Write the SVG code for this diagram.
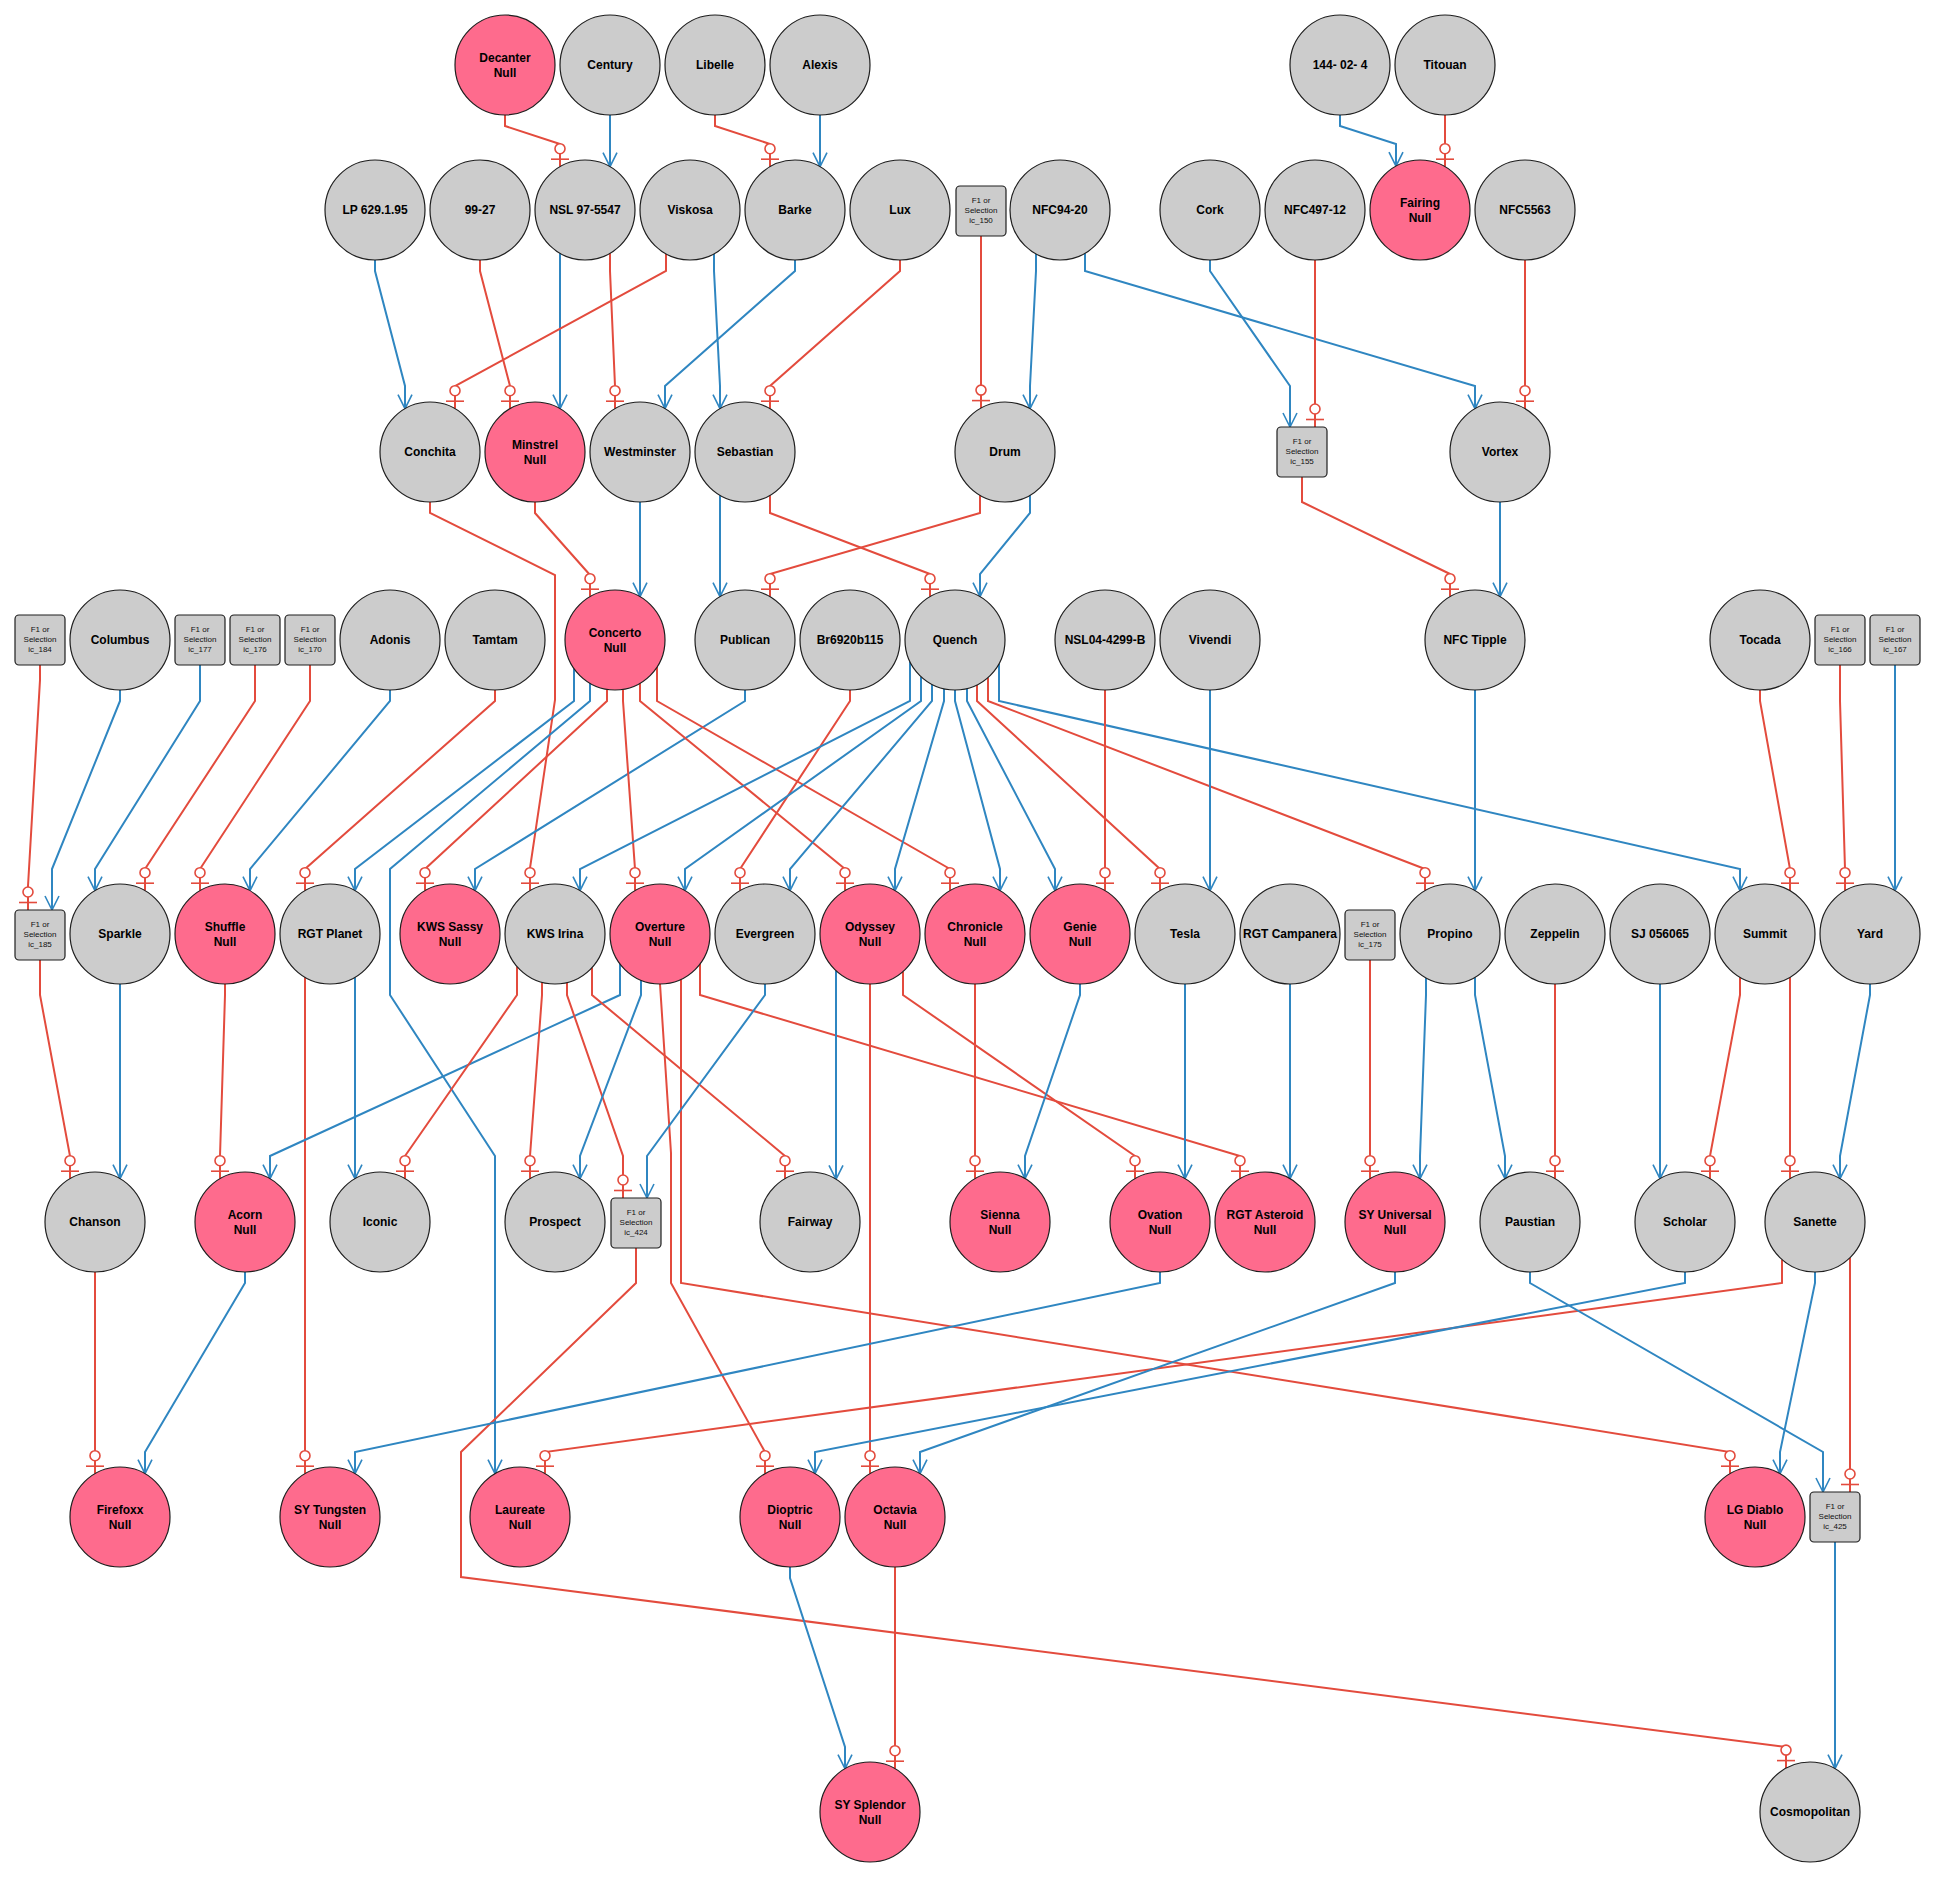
<svg xmlns="http://www.w3.org/2000/svg" width="1935" height="1877" viewBox="0 0 1935 1877">
<style>
.c{stroke:#1e1e1e;stroke-width:1.2}
.g{fill:#cccccc}
.p{fill:#fe6b8d}
.bx{fill:#cccccc;stroke:#1e1e1e;stroke-width:1.2}
.t{font-family:"Liberation Sans",Arial,sans-serif;font-weight:bold;font-size:12px;text-anchor:middle;fill:#000}
.s{font-family:"Liberation Sans",Arial,sans-serif;font-size:8px;text-anchor:middle;fill:#111}
.e{fill:none;stroke-width:2}
.r{stroke:#e34b3d;marker-end:url(#mr)}
.u{stroke:#2f86c1;marker-end:url(#mb)}
</style>
<defs>
<marker id="mb" markerUnits="userSpaceOnUse" viewBox="-25 -12 30 24" markerWidth="30" markerHeight="24" refX="0" refY="0" orient="auto" overflow="visible">
<path d="M-14,-7 L0,0 L-14,7" fill="none" stroke="#2f86c1" stroke-width="1.6"/>
</marker>
<marker id="mr" markerUnits="userSpaceOnUse" viewBox="-30 -12 36 24" markerWidth="36" markerHeight="24" refX="0" refY="0" orient="auto" overflow="visible">
<line x1="-7.5" y1="-9" x2="-7.5" y2="9" stroke="#e34b3d" stroke-width="1.6"/>
<circle cx="-18" cy="0" r="5" fill="#fff" stroke="#e34b3d" stroke-width="1.6"/>
</marker>
</defs>
<rect width="1935" height="1877" fill="#fff"/>
<g id="connectors">
<path class="e r" d="M505,115 V126 L560,144 V166.7"/>
<path class="e u" d="M610,115 V166.7"/>
<path class="e r" d="M715,115 V126 L770,144 V166.7"/>
<path class="e u" d="M820,115 V166.7"/>
<path class="e u" d="M1340,115 V126 L1396,144 V166.1"/>
<path class="e r" d="M1445,115 V166.7"/>
<path class="e u" d="M375,260 V271 L405,386 V408.7"/>
<path class="e r" d="M480,260 V271 L510,386 V408.7"/>
<path class="e u" d="M560,253.3 V408.7"/>
<path class="e r" d="M610,253.3 V271 L615,386 V408.7"/>
<path class="e r" d="M666,253.9 V271 L455,386 V408.7"/>
<path class="e u" d="M714,253.9 V271 L720,386 V408.7"/>
<path class="e u" d="M795,260 V271 L665,386 V408.7"/>
<path class="e r" d="M900,260 V271 L770,386 V408.7"/>
<path class="e r" d="M981,236 V408.1"/>
<path class="e u" d="M1036,253.9 V271 L1030,386 V408.7"/>
<path class="e u" d="M1085,253.3 V271 L1475,386 V408.7"/>
<path class="e u" d="M1210,260 V271 L1290,386 V427"/>
<path class="e r" d="M1315,260 V427"/>
<path class="e r" d="M1525,260 V408.7"/>
<path class="e r" d="M430,502 V513 L555,575 V700 L530,868 V890.7"/>
<path class="e r" d="M535,502 V513 L590,575 V596.7"/>
<path class="e u" d="M640,502 V596.7"/>
<path class="e u" d="M720,495.3 V596.7"/>
<path class="e r" d="M770,495.3 V513 L930,574 V596.7"/>
<path class="e r" d="M980,495.3 V513 L770,574 V596.7"/>
<path class="e u" d="M1030,495.3 V513 L980,574 V596.7"/>
<path class="e r" d="M1302,477 V502 L1450,574 V596.7"/>
<path class="e u" d="M1500,502 V596.7"/>
<path class="e r" d="M40,665 V680 L28,886 V910"/>
<path class="e u" d="M120,690 V701 L52,869 V910"/>
<path class="e u" d="M200,665 V701 L95,869 V890.7"/>
<path class="e r" d="M255,665 V701 L145,869 V890.7"/>
<path class="e r" d="M310,665 V701 L200,869 V890.7"/>
<path class="e u" d="M390,690 V701 L250,869 V890.7"/>
<path class="e r" d="M495,690 V701 L305,869 V890.7"/>
<path class="e u" d="M574,668.6 V701 L355,869 V890.7"/>
<path class="e u" d="M590,683.3 V701 L390,869 V995 L495,1156 V1473.7"/>
<path class="e r" d="M607,689.4 V701 L425,869 V890.7"/>
<path class="e u" d="M745,690 V701 L475,869 V890.7"/>
<path class="e r" d="M623,689.4 V701 L635,869 V890.7"/>
<path class="e r" d="M640,683.3 V701 L845,869 V890.7"/>
<path class="e r" d="M657,667.1 V701 L950,869 V890.7"/>
<path class="e r" d="M850,690 V701 L740,869 V890.7"/>
<path class="e u" d="M910,661.8 V701 L580,869 V890.7"/>
<path class="e u" d="M921,676.7 V701 L685,869 V890.7"/>
<path class="e u" d="M932,684.4 V701 L790,869 V890.7"/>
<path class="e u" d="M944,688.8 V701 L895,869 V890.7"/>
<path class="e u" d="M955,690 V701 L1000,869 V890.7"/>
<path class="e u" d="M967,688.5 V701 L1055,869 V890.7"/>
<path class="e r" d="M977,684.9 V701 L1160,869 V890.7"/>
<path class="e r" d="M988,677.6 V701 L1425,869 V890.7"/>
<path class="e u" d="M999,663.7 V701 L1740,869 V890.7"/>
<path class="e r" d="M1105,690 V890.7"/>
<path class="e u" d="M1210,690 V890.7"/>
<path class="e u" d="M1475,690 V890.7"/>
<path class="e r" d="M1760,690 V701 L1790,869 V890.7"/>
<path class="e r" d="M1840,665 V701 L1845,869 V890.7"/>
<path class="e u" d="M1895,665 V890.7"/>
<path class="e r" d="M40,960 V995 L70,1156 V1178.7"/>
<path class="e u" d="M120,984 V1178.7"/>
<path class="e r" d="M225,984 V995 L220,1156 V1178.7"/>
<path class="e r" d="M305,977.3 V1473.7"/>
<path class="e u" d="M355,977.3 V1178.7"/>
<path class="e u" d="M620,964 V995 L270,1156 V1178.7"/>
<path class="e r" d="M517,966.5 V995 L405,1156 V1178.7"/>
<path class="e r" d="M542,982.3 V995 L530,1156 V1178.7"/>
<path class="e r" d="M567,982.5 V995 L623,1156 V1198"/>
<path class="e r" d="M592,967.6 V995 L785,1156 V1178.7"/>
<path class="e u" d="M641,980.2 V995 L580,1156 V1178.7"/>
<path class="e r" d="M660,984 L671,1153 V1283 L765,1452 V1473.7"/>
<path class="e r" d="M681,979.4 V1283 L1730,1452 V1473.7"/>
<path class="e r" d="M700,964 V995 L1240,1156 V1178.7"/>
<path class="e u" d="M765,984 V995 L647,1156 V1198"/>
<path class="e u" d="M836,970.7 V1179.3"/>
<path class="e r" d="M870,984 V1473.7"/>
<path class="e r" d="M903,971.6 V995 L1135,1156 V1178.7"/>
<path class="e r" d="M975,984 V1178.7"/>
<path class="e u" d="M1080,984 V995 L1025,1156 V1178.7"/>
<path class="e u" d="M1185,984 V1178.7"/>
<path class="e u" d="M1290,984 V1178.7"/>
<path class="e r" d="M1370,960 V1178.7"/>
<path class="e u" d="M1426,977.9 V995 L1420,1156 V1178.7"/>
<path class="e u" d="M1475,977.3 V995 L1505,1156 V1178.7"/>
<path class="e r" d="M1555,984 V1178.7"/>
<path class="e u" d="M1660,984 V1178.7"/>
<path class="e r" d="M1740,977.3 V995 L1710,1156 V1178.7"/>
<path class="e r" d="M1790,977.3 V1178.7"/>
<path class="e u" d="M1870,984 V995 L1840,1156 V1178.7"/>
<path class="e r" d="M95,1272 V1473.7"/>
<path class="e u" d="M245,1272 V1283 L145,1452 V1473.7"/>
<path class="e r" d="M636,1248 V1283 L461,1452 V1577 L1786,1747 V1768.1"/>
<path class="e u" d="M1160,1272 V1283 L355,1452 V1473.7"/>
<path class="e r" d="M1782,1259.6 V1283 L545,1452 V1473.7"/>
<path class="e u" d="M1395,1272 V1283 L920,1452 V1473.7"/>
<path class="e u" d="M1685,1272 V1283 L815,1452 V1473.7"/>
<path class="e u" d="M1530,1272 V1283 L1823,1452 V1492"/>
<path class="e u" d="M1815,1272 V1283 L1780,1452 V1473.7"/>
<path class="e r" d="M1850,1257.7 V1492"/>
<path class="e u" d="M790,1567 V1578 L845,1747 V1768.7"/>
<path class="e r" d="M895,1567 V1768.7"/>
<path class="e u" d="M1835,1542 V1768.7"/>
</g>
<g id="nodes">
<g id="decanter" transform="translate(505,65)"><circle class="c p" r="50"/><text class="t" y="-3">Decanter</text><text class="t" y="12">Null</text></g>
<g id="century" transform="translate(610,65)"><circle class="c g" r="50"/><text class="t" y="4">Century</text></g>
<g id="libelle" transform="translate(715,65)"><circle class="c g" r="50"/><text class="t" y="4">Libelle</text></g>
<g id="alexis" transform="translate(820,65)"><circle class="c g" r="50"/><text class="t" y="4">Alexis</text></g>
<g id="n144" transform="translate(1340,65)"><circle class="c g" r="50"/><text class="t" y="4">144- 02- 4</text></g>
<g id="titouan" transform="translate(1445,65)"><circle class="c g" r="50"/><text class="t" y="4">Titouan</text></g>

<g id="lp629" transform="translate(375,210)"><circle class="c g" r="50"/><text class="t" y="4">LP 629.1.95</text></g>
<g id="n9927" transform="translate(480,210)"><circle class="c g" r="50"/><text class="t" y="4">99-27</text></g>
<g id="nsl97" transform="translate(585,210)"><circle class="c g" r="50"/><text class="t" y="4">NSL 97-5547</text></g>
<g id="viskosa" transform="translate(690,210)"><circle class="c g" r="50"/><text class="t" y="4">Viskosa</text></g>
<g id="barke" transform="translate(795,210)"><circle class="c g" r="50"/><text class="t" y="4">Barke</text></g>
<g id="lux" transform="translate(900,210)"><circle class="c g" r="50"/><text class="t" y="4">Lux</text></g>
<g id="ic150" transform="translate(981,211)"><rect class="bx" x="-25" y="-25" width="50" height="50" rx="4"/><text class="s" y="-8">F1 or</text><text class="s" y="2">Selection</text><text class="s" y="12">ic_150</text></g>
<g id="nfc9420" transform="translate(1060,210)"><circle class="c g" r="50"/><text class="t" y="4">NFC94-20</text></g>
<g id="cork" transform="translate(1210,210)"><circle class="c g" r="50"/><text class="t" y="4">Cork</text></g>
<g id="nfc497" transform="translate(1315,210)"><circle class="c g" r="50"/><text class="t" y="4">NFC497-12</text></g>
<g id="fairing" transform="translate(1420,210)"><circle class="c p" r="50"/><text class="t" y="-3">Fairing</text><text class="t" y="12">Null</text></g>
<g id="nfc5563" transform="translate(1525,210)"><circle class="c g" r="50"/><text class="t" y="4">NFC5563</text></g>

<g id="conchita" transform="translate(430,452)"><circle class="c g" r="50"/><text class="t" y="4">Conchita</text></g>
<g id="minstrel" transform="translate(535,452)"><circle class="c p" r="50"/><text class="t" y="-3">Minstrel</text><text class="t" y="12">Null</text></g>
<g id="westminster" transform="translate(640,452)"><circle class="c g" r="50"/><text class="t" y="4">Westminster</text></g>
<g id="sebastian" transform="translate(745,452)"><circle class="c g" r="50"/><text class="t" y="4">Sebastian</text></g>
<g id="drum" transform="translate(1005,452)"><circle class="c g" r="50"/><text class="t" y="4">Drum</text></g>
<g id="ic155" transform="translate(1302,452)"><rect class="bx" x="-25" y="-25" width="50" height="50" rx="4"/><text class="s" y="-8">F1 or</text><text class="s" y="2">Selection</text><text class="s" y="12">ic_155</text></g>
<g id="vortex" transform="translate(1500,452)"><circle class="c g" r="50"/><text class="t" y="4">Vortex</text></g>

<g id="ic184" transform="translate(40,640)"><rect class="bx" x="-25" y="-25" width="50" height="50" rx="4"/><text class="s" y="-8">F1 or</text><text class="s" y="2">Selection</text><text class="s" y="12">ic_184</text></g>
<g id="columbus" transform="translate(120,640)"><circle class="c g" r="50"/><text class="t" y="4">Columbus</text></g>
<g id="ic177" transform="translate(200,640)"><rect class="bx" x="-25" y="-25" width="50" height="50" rx="4"/><text class="s" y="-8">F1 or</text><text class="s" y="2">Selection</text><text class="s" y="12">ic_177</text></g>
<g id="ic176" transform="translate(255,640)"><rect class="bx" x="-25" y="-25" width="50" height="50" rx="4"/><text class="s" y="-8">F1 or</text><text class="s" y="2">Selection</text><text class="s" y="12">ic_176</text></g>
<g id="ic170" transform="translate(310,640)"><rect class="bx" x="-25" y="-25" width="50" height="50" rx="4"/><text class="s" y="-8">F1 or</text><text class="s" y="2">Selection</text><text class="s" y="12">ic_170</text></g>
<g id="adonis" transform="translate(390,640)"><circle class="c g" r="50"/><text class="t" y="4">Adonis</text></g>
<g id="tamtam" transform="translate(495,640)"><circle class="c g" r="50"/><text class="t" y="4">Tamtam</text></g>
<g id="concerto" transform="translate(615,640)"><circle class="c p" r="50"/><text class="t" y="-3">Concerto</text><text class="t" y="12">Null</text></g>
<g id="publican" transform="translate(745,640)"><circle class="c g" r="50"/><text class="t" y="4">Publican</text></g>
<g id="br6920" transform="translate(850,640)"><circle class="c g" r="50"/><text class="t" y="4">Br6920b115</text></g>
<g id="quench" transform="translate(955,640)"><circle class="c g" r="50"/><text class="t" y="4">Quench</text></g>
<g id="nsl04" transform="translate(1105,640)"><circle class="c g" r="50"/><text class="t" y="4">NSL04-4299-B</text></g>
<g id="vivendi" transform="translate(1210,640)"><circle class="c g" r="50"/><text class="t" y="4">Vivendi</text></g>
<g id="nfctipple" transform="translate(1475,640)"><circle class="c g" r="50"/><text class="t" y="4">NFC Tipple</text></g>
<g id="tocada" transform="translate(1760,640)"><circle class="c g" r="50"/><text class="t" y="4">Tocada</text></g>
<g id="ic166" transform="translate(1840,640)"><rect class="bx" x="-25" y="-25" width="50" height="50" rx="4"/><text class="s" y="-8">F1 or</text><text class="s" y="2">Selection</text><text class="s" y="12">ic_166</text></g>
<g id="ic167" transform="translate(1895,640)"><rect class="bx" x="-25" y="-25" width="50" height="50" rx="4"/><text class="s" y="-8">F1 or</text><text class="s" y="2">Selection</text><text class="s" y="12">ic_167</text></g>

<g id="ic185" transform="translate(40,935)"><rect class="bx" x="-25" y="-25" width="50" height="50" rx="4"/><text class="s" y="-8">F1 or</text><text class="s" y="2">Selection</text><text class="s" y="12">ic_185</text></g>
<g id="sparkle" transform="translate(120,934)"><circle class="c g" r="50"/><text class="t" y="4">Sparkle</text></g>
<g id="shuffle" transform="translate(225,934)"><circle class="c p" r="50"/><text class="t" y="-3">Shuffle</text><text class="t" y="12">Null</text></g>
<g id="rgtplanet" transform="translate(330,934)"><circle class="c g" r="50"/><text class="t" y="4">RGT Planet</text></g>
<g id="kwssassy" transform="translate(450,934)"><circle class="c p" r="50"/><text class="t" y="-3">KWS Sassy</text><text class="t" y="12">Null</text></g>
<g id="kwsirina" transform="translate(555,934)"><circle class="c g" r="50"/><text class="t" y="4">KWS Irina</text></g>
<g id="overture" transform="translate(660,934)"><circle class="c p" r="50"/><text class="t" y="-3">Overture</text><text class="t" y="12">Null</text></g>
<g id="evergreen" transform="translate(765,934)"><circle class="c g" r="50"/><text class="t" y="4">Evergreen</text></g>
<g id="odyssey" transform="translate(870,934)"><circle class="c p" r="50"/><text class="t" y="-3">Odyssey</text><text class="t" y="12">Null</text></g>
<g id="chronicle" transform="translate(975,934)"><circle class="c p" r="50"/><text class="t" y="-3">Chronicle</text><text class="t" y="12">Null</text></g>
<g id="genie" transform="translate(1080,934)"><circle class="c p" r="50"/><text class="t" y="-3">Genie</text><text class="t" y="12">Null</text></g>
<g id="tesla" transform="translate(1185,934)"><circle class="c g" r="50"/><text class="t" y="4">Tesla</text></g>
<g id="rgtcampanera" transform="translate(1290,934)"><circle class="c g" r="50"/><text class="t" y="4">RGT Campanera</text></g>
<g id="ic175" transform="translate(1370,935)"><rect class="bx" x="-25" y="-25" width="50" height="50" rx="4"/><text class="s" y="-8">F1 or</text><text class="s" y="2">Selection</text><text class="s" y="12">ic_175</text></g>
<g id="propino" transform="translate(1450,934)"><circle class="c g" r="50"/><text class="t" y="4">Propino</text></g>
<g id="zeppelin" transform="translate(1555,934)"><circle class="c g" r="50"/><text class="t" y="4">Zeppelin</text></g>
<g id="sj056065" transform="translate(1660,934)"><circle class="c g" r="50"/><text class="t" y="4">SJ 056065</text></g>
<g id="summit" transform="translate(1765,934)"><circle class="c g" r="50"/><text class="t" y="4">Summit</text></g>
<g id="yard" transform="translate(1870,934)"><circle class="c g" r="50"/><text class="t" y="4">Yard</text></g>

<g id="chanson" transform="translate(95,1222)"><circle class="c g" r="50"/><text class="t" y="4">Chanson</text></g>
<g id="acorn" transform="translate(245,1222)"><circle class="c p" r="50"/><text class="t" y="-3">Acorn</text><text class="t" y="12">Null</text></g>
<g id="iconic" transform="translate(380,1222)"><circle class="c g" r="50"/><text class="t" y="4">Iconic</text></g>
<g id="prospect" transform="translate(555,1222)"><circle class="c g" r="50"/><text class="t" y="4">Prospect</text></g>
<g id="ic424" transform="translate(636,1223)"><rect class="bx" x="-25" y="-25" width="50" height="50" rx="4"/><text class="s" y="-8">F1 or</text><text class="s" y="2">Selection</text><text class="s" y="12">ic_424</text></g>
<g id="fairway" transform="translate(810,1222)"><circle class="c g" r="50"/><text class="t" y="4">Fairway</text></g>
<g id="sienna" transform="translate(1000,1222)"><circle class="c p" r="50"/><text class="t" y="-3">Sienna</text><text class="t" y="12">Null</text></g>
<g id="ovation" transform="translate(1160,1222)"><circle class="c p" r="50"/><text class="t" y="-3">Ovation</text><text class="t" y="12">Null</text></g>
<g id="rgtasteroid" transform="translate(1265,1222)"><circle class="c p" r="50"/><text class="t" y="-3">RGT Asteroid</text><text class="t" y="12">Null</text></g>
<g id="syuniversal" transform="translate(1395,1222)"><circle class="c p" r="50"/><text class="t" y="-3">SY Universal</text><text class="t" y="12">Null</text></g>
<g id="paustian" transform="translate(1530,1222)"><circle class="c g" r="50"/><text class="t" y="4">Paustian</text></g>
<g id="scholar" transform="translate(1685,1222)"><circle class="c g" r="50"/><text class="t" y="4">Scholar</text></g>
<g id="sanette" transform="translate(1815,1222)"><circle class="c g" r="50"/><text class="t" y="4">Sanette</text></g>

<g id="firefoxx" transform="translate(120,1517)"><circle class="c p" r="50"/><text class="t" y="-3">Firefoxx</text><text class="t" y="12">Null</text></g>
<g id="sytungsten" transform="translate(330,1517)"><circle class="c p" r="50"/><text class="t" y="-3">SY Tungsten</text><text class="t" y="12">Null</text></g>
<g id="laureate" transform="translate(520,1517)"><circle class="c p" r="50"/><text class="t" y="-3">Laureate</text><text class="t" y="12">Null</text></g>
<g id="dioptric" transform="translate(790,1517)"><circle class="c p" r="50"/><text class="t" y="-3">Dioptric</text><text class="t" y="12">Null</text></g>
<g id="octavia" transform="translate(895,1517)"><circle class="c p" r="50"/><text class="t" y="-3">Octavia</text><text class="t" y="12">Null</text></g>
<g id="lgdiablo" transform="translate(1755,1517)"><circle class="c p" r="50"/><text class="t" y="-3">LG Diablo</text><text class="t" y="12">Null</text></g>
<g id="ic425" transform="translate(1835,1517)"><rect class="bx" x="-25" y="-25" width="50" height="50" rx="4"/><text class="s" y="-8">F1 or</text><text class="s" y="2">Selection</text><text class="s" y="12">ic_425</text></g>

<g id="sysplendor" transform="translate(870,1812)"><circle class="c p" r="50"/><text class="t" y="-3">SY Splendor</text><text class="t" y="12">Null</text></g>
<g id="cosmopolitan" transform="translate(1810,1812)"><circle class="c g" r="50"/><text class="t" y="4">Cosmopolitan</text></g>
</g>
</svg>
